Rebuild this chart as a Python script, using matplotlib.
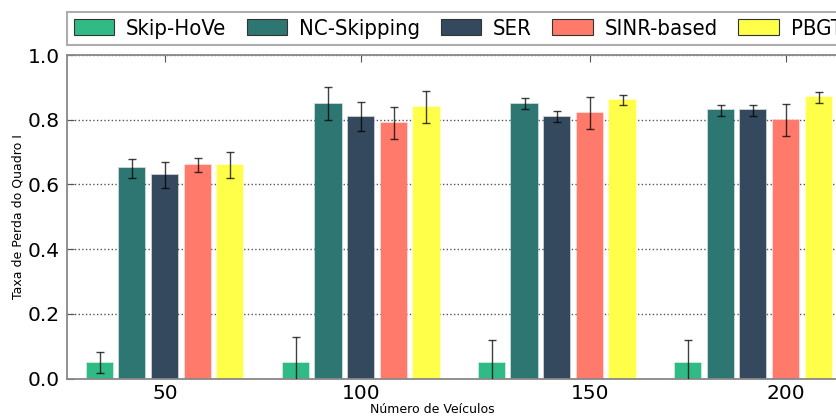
import numpy as np
import matplotlib
matplotlib.use("Agg")
import matplotlib.pyplot as plt
from matplotlib.font_manager import FontProperties
from matplotlib.patches import Patch

# ---- data ----
groups = ["50", "100", "150", "200"]
series = ["Skip-HoVe", "NC-Skipping", "SER", "SINR-based", "PBGT"]
colors = ["#30ba86", "#2d7671", "#34495e", "#ff7a6a", "#ffff4a"]
values = {
    "Skip-HoVe":   [0.05, 0.05, 0.05, 0.05],
    "NC-Skipping": [0.65, 0.85, 0.85, 0.83],
    "SER":         [0.63, 0.81, 0.81, 0.83],
    "SINR-based":  [0.66, 0.79, 0.82, 0.80],
    "PBGT":        [0.66, 0.84, 0.86, 0.87],
}
errors = {
    "Skip-HoVe":   [0.033, 0.078, 0.07, 0.07],
    "NC-Skipping": [0.03, 0.05, 0.017, 0.017],
    "SER":         [0.04, 0.046, 0.017, 0.017],
    "SINR-based":  [0.022, 0.05, 0.05, 0.05],
    "PBGT":        [0.04, 0.05, 0.015, 0.017],
}
yticks = [0.0, 0.2, 0.4, 0.6, 0.8, 1.0]
xlabel = "Número de Veículos"
ylabel = "Taxa de Perda do Quadro I"

# ---- layout ----
W, H = 837, 416
fig = plt.figure(figsize=(W / 100, H / 100), dpi=100)
ax = fig.add_axes([67 / W, 37.3 / H, 817 / W, 323.7 / H])

group_step = len(series) + 1
gidx = np.arange(len(groups)) * group_step
for i, s in enumerate(series):
    x = gidx + i
    ax.bar(x, values[s], width=0.8, color=colors[i],
           edgecolor=matplotlib.colors.to_rgba(colors[i], 0.35), linewidth=1.2,
           zorder=2)
    ax.errorbar(x, values[s], yerr=errors[s], fmt="none", ecolor="black",
                elinewidth=1.0, capsize=3, capthick=1.0, alpha=0.75, zorder=3)

# tick positions as in the reference (under 3rd,3rd,4th,4th bar)
tick_offsets = [2, 2, 3, 3]
ax.set_xticks(gidx + np.array(tick_offsets))
ax.set_xticklabels(groups)
ax.set_xlim(-1, 24)
ax.set_ylim(0, 1.0)
ax.set_yticks(yticks)
ax.set_yticklabels([f"{t:.1f}" for t in yticks])

ax.tick_params(axis="both", direction="in", labelsize=14.5, top=True,
               right=False, length=5, color="#555555", pad=5)
ax.tick_params(axis="x", pad=4)
for sp in ax.spines.values():
    sp.set_color("#888888")
    sp.set_linewidth(1.3)
ax.spines["right"].set_visible(False)

ax.yaxis.grid(True, linestyle=":", color="#555555", linewidth=1.0, zorder=0)
ax.set_axisbelow(True)

ax.set_ylabel(ylabel, fontsize=9)
ax.yaxis.set_label_coords(-42 / 817, 0.5)
ax.set_xlabel(xlabel, fontsize=9)
ax.xaxis.set_label_coords((432 - 67) / 817, -24 / 323.7)

fp = FontProperties(family="DejaVu Sans", stretch="condensed", size=15.8)
handles = [Patch(facecolor=c, edgecolor="#333333", linewidth=0.8) for c in colors]
leg = fig.legend(handles, series, loc="upper left",
                 bbox_to_anchor=(67 / W, 1 - 12 / H), ncol=5, prop=fp,
                 frameon=True, fancybox=False, handlelength=1.85,
                 handleheight=0.7, handletextpad=0.55, columnspacing=0.92,
                 borderpad=0.3, borderaxespad=0)
leg.get_frame().set_edgecolor("#999999")
leg.get_frame().set_linewidth(1.5)

fig.savefig("out.png", dpi=100)
